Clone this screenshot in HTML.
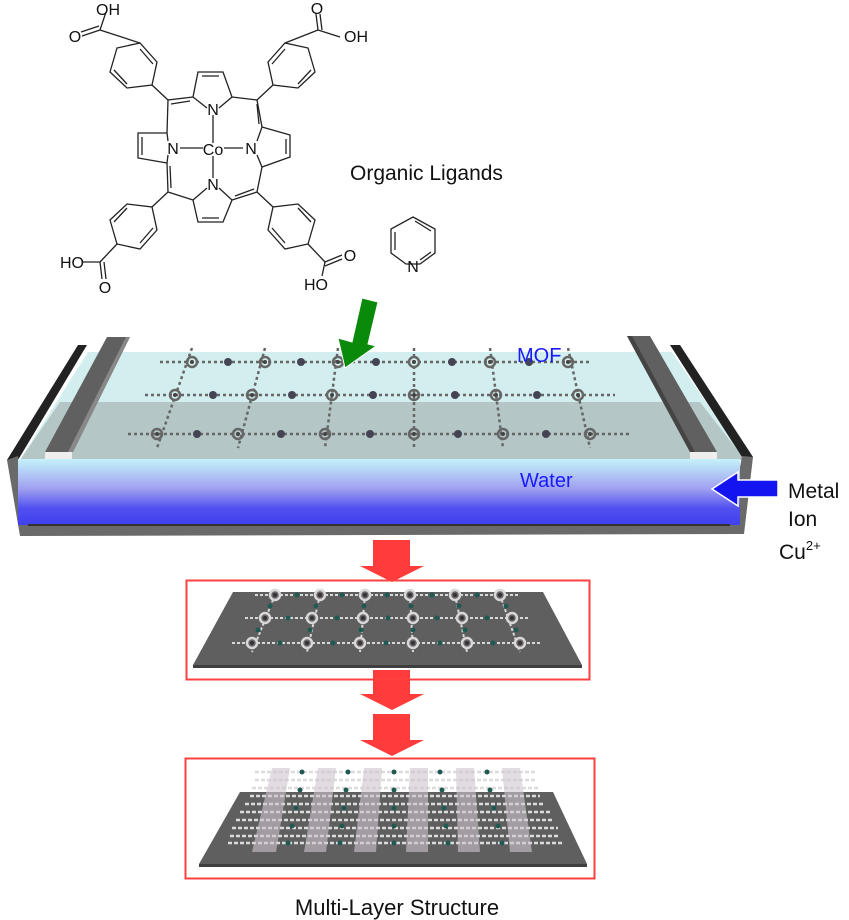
<!DOCTYPE html>
<html><head><meta charset="utf-8"><style>
html,body{margin:0;padding:0;background:#fff}
svg{display:block}
text{font-family:"Liberation Sans",sans-serif}
</style></head><body>
<svg width="849" height="920" viewBox="0 0 849 920" xmlns="http://www.w3.org/2000/svg">
<defs>
<linearGradient id="wat" x1="0" y1="0" x2="0" y2="1">
<stop offset="0" stop-color="#c4f2fa"/><stop offset="0.45" stop-color="#a0a0f0"/><stop offset="0.75" stop-color="#5050f0"/><stop offset="1" stop-color="#4040f0"/></linearGradient>
<g id="nd"><circle r="5" fill="#6a646a" stroke="#d8d8d8" stroke-width="2.5"/><circle r="2" fill="#333"/></g>
<g id="tn"><circle r="5" fill="none" stroke="#666" stroke-width="2.5"/><circle r="2" fill="#444"/></g>
</defs>

<!-- Molecule -->
<g fill="none" stroke="#222" stroke-width="1.3">
<line x1="213" y1="115" x2="213" y2="143"/><line x1="213" y1="156" x2="213" y2="178"/>
<line x1="180" y1="148" x2="203" y2="148"/><line x1="224" y1="148" x2="243" y2="148"/>
<polyline points="207,108 193,97 198,72 223,72 232,97 219,108"/><line x1="202" y1="76" x2="219" y2="76"/>
<polyline points="207,188 193,200 198,222 223,222 232,200 219,188"/><line x1="202" y1="218" x2="219" y2="218"/>
<polyline points="168,141 167,133 138,133 138,158 167,163 168,155"/><line x1="142" y1="137" x2="142" y2="155"/>
<polyline points="257,141 262,127 290,135 290,157 262,167 257,155"/><line x1="286" y1="139" x2="286" y2="154"/>
<polyline points="193,97 168,100 167,133"/><line x1="190" y1="101" x2="171" y2="104"/>
<polyline points="232,97 257,100 262,127"/><line x1="257" y1="104" x2="259" y2="124"/>
<polyline points="193,200 168,192 167,163"/><line x1="171" y1="188" x2="170" y2="166"/>
<polyline points="232,200 257,192 262,167"/><line x1="235" y1="196" x2="254" y2="189"/>
<line x1="168" y1="100" x2="152" y2="85"/>
<polygon points="152,85 157,62 140,43 117,48 110,72 127,88"/><line x1="153" y1="64" x2="140" y2="49"/><line x1="114" y1="70" x2="127" y2="84"/>
<line x1="140" y1="43" x2="100" y2="30"/><line x1="100" y1="30" x2="106" y2="12"/><line x1="100" y1="30" x2="82" y2="36"/><line x1="99" y1="26" x2="81" y2="32"/>
<line x1="257" y1="100" x2="273" y2="85"/>
<polygon points="273,85 268,62 285,43 308,48 315,72 298,88"/><line x1="272" y1="64" x2="285" y2="49"/><line x1="311" y1="70" x2="298" y2="84"/>
<line x1="285" y1="43" x2="318" y2="30"/><line x1="318" y1="30" x2="340" y2="37"/><line x1="318" y1="30" x2="316" y2="14"/><line x1="322" y1="30" x2="320" y2="14"/>
<line x1="168" y1="192" x2="152" y2="207"/>
<polygon points="152,207 157,230 140,249 117,244 110,220 127,204"/><line x1="153" y1="228" x2="140" y2="243"/><line x1="114" y1="222" x2="127" y2="208"/>
<line x1="117" y1="244" x2="100" y2="262"/><line x1="100" y1="262" x2="83" y2="262"/><line x1="100" y1="262" x2="102" y2="279"/><line x1="104" y1="262" x2="106" y2="279"/>
<line x1="257" y1="192" x2="273" y2="207"/>
<polygon points="273,207 268,230 285,249 308,244 315,220 298,204"/><line x1="272" y1="228" x2="285" y2="243"/><line x1="311" y1="222" x2="298" y2="208"/>
<line x1="308" y1="244" x2="325" y2="262"/><line x1="325" y1="262" x2="342" y2="255"/><line x1="325" y1="266" x2="342" y2="259"/><line x1="325" y1="262" x2="322" y2="276"/>
<polygon points="413,217 435,229 435,253 420,264 406,264 391,253 391,229"/><line x1="395" y1="232" x2="395" y2="250"/><line x1="415" y1="221" x2="431" y2="231"/><line x1="431" y1="252" x2="420" y2="260"/>
</g>
<g font-size="16" fill="#111" text-anchor="middle">
<text x="213" y="115">N</text><text x="213" y="190">N</text><text x="173" y="154">N</text><text x="251" y="154">N</text>
<text x="213" y="155">Co</text>
<text x="108" y="15">OH</text><text x="75" y="42">O</text>
<text x="317" y="14">O</text><text x="356" y="42">OH</text>
<text x="72" y="268">HO</text><text x="105" y="293">O</text>
<text x="350" y="261">O</text><text x="316" y="290">HO</text>
<text x="413" y="272">N</text>
</g>
<text x="350" y="180" font-size="21" fill="#111">Organic Ligands</text>

<!-- Trough -->
<polygon points="88,352 672,352 745,460 20,460" fill="#d3eeee"/>
<polygon points="60,402 700,402 745,460 20,460" fill="#b4c6c6"/>
<polygon points="78,345 87,345 18,460 7,460" fill="#222"/>
<polygon points="670,345 680,345 753,457 742,457" fill="#222"/>
<polygon points="7,460 18,456 28,524 730,524 742,456 753,457 744,534 20,536" fill="#6a6a6a"/>
<rect x="18" y="459" width="722" height="66" fill="url(#wat)"/>
<line x1="28" y1="525" x2="730" y2="525" fill="none" stroke="#333" stroke-width="2"/>
<polygon points="107,337 130,337 73,452 45,452" fill="#606060"/>
<polygon points="126,337 130,337 73,452 68,452" fill="#888"/>
<rect x="45" y="452" width="27" height="7" fill="#eee"/>
<polygon points="627,336 650,336 717,452 690,452" fill="#606060"/>
<polygon points="627,336 632,336 695,452 690,452" fill="#444"/>
<rect x="690" y="452" width="27" height="7" fill="#eee"/>
<g stroke="#666" stroke-width="2.5" stroke-dasharray="3 3" fill="none">
<line x1="160" y1="362" x2="590" y2="362"/><line x1="145" y1="395" x2="615" y2="395"/><line x1="128" y1="434" x2="630" y2="434"/>
<line x1="192" y1="348" x2="157" y2="448"/><line x1="265" y1="348" x2="238" y2="448"/><line x1="338" y1="348" x2="325" y2="448"/>
<line x1="414" y1="348" x2="414" y2="448"/><line x1="490" y1="348" x2="503" y2="448"/><line x1="568" y1="348" x2="590" y2="448"/>
</g>
<g fill="#445">
<use href="#tn" x="192" y="362"/><use href="#tn" x="265" y="362"/><use href="#tn" x="338" y="362"/><use href="#tn" x="414" y="362"/><use href="#tn" x="490" y="362"/><use href="#tn" x="568" y="362"/>
<use href="#tn" x="175" y="395"/><use href="#tn" x="252" y="395"/><use href="#tn" x="332" y="395"/><use href="#tn" x="414" y="395"/><use href="#tn" x="496" y="395"/><use href="#tn" x="578" y="395"/>
<use href="#tn" x="157" y="434"/><use href="#tn" x="238" y="434"/><use href="#tn" x="325" y="434"/><use href="#tn" x="414" y="434"/><use href="#tn" x="503" y="434"/><use href="#tn" x="590" y="434"/>
<circle cx="228" cy="362" r="4"/><circle cx="301" cy="362" r="4"/><circle cx="376" cy="362" r="4"/><circle cx="452" cy="362" r="4"/><circle cx="529" cy="362" r="4"/>
<circle cx="213" cy="395" r="4"/><circle cx="292" cy="395" r="4"/><circle cx="373" cy="395" r="4"/><circle cx="455" cy="395" r="4"/><circle cx="537" cy="395" r="4"/>
<circle cx="197" cy="434" r="4"/><circle cx="281" cy="434" r="4"/><circle cx="370" cy="434" r="4"/><circle cx="458" cy="434" r="4"/><circle cx="546" cy="434" r="4"/>
</g>
<text x="517" y="362" font-size="20" fill="#1a1aff">MOF</text>
<text x="520" y="487" font-size="20" fill="#1a1aff">Water</text>
<polygon points="362,298 378,302 368,344 376,346 345,368 338,338 352,342" fill="#0a8a0a" stroke="#fff" stroke-width="1"/>
<polygon points="778,480 778,497 738,497 738,506 712,489 738,472 738,480" fill="#1414f0" stroke="#fff" stroke-width="1.5"/>
<g font-size="21" fill="#111">
<text x="788" y="498">Metal</text><text x="788" y="526">Ion</text>
<text x="779" y="559">Cu<tspan font-size="13" dy="-9">2+</tspan></text>
</g>

<g fill="#ff3b3b">
<polygon points="373,540 410,540 410,566 424,566 392,582 360,566 373,566"/>
<polygon points="373,670 410,670 410,694 424,694 392,710 360,694 373,694"/>
<polygon points="373,714 410,714 410,740 424,740 392,756 360,740 373,740"/>
</g>
<rect x="186.5" y="580.5" width="403" height="99" fill="none" stroke="#ff4040" stroke-width="2"/>
<rect x="185.5" y="758.5" width="409" height="120" fill="none" stroke="#ff4040" stroke-width="2"/>

<!-- plate 1 -->
<polygon points="233,592 543,592 582,665 193,665" fill="#5f5f5f"/>
<rect x="193" y="665" width="389" height="3" fill="#3f3f3f"/>
<g stroke="#d8d8d8" stroke-width="2" stroke-dasharray="3 2" fill="none">
<line x1="255" y1="595" x2="520" y2="595"/><line x1="245" y1="618" x2="530" y2="618"/><line x1="232" y1="643" x2="540" y2="643"/>
<line x1="275" y1="595" x2="252" y2="652"/><line x1="320" y1="595" x2="307" y2="652"/><line x1="365" y1="595" x2="360" y2="652"/>
<line x1="410" y1="595" x2="413" y2="652"/><line x1="455" y1="595" x2="467" y2="652"/><line x1="500" y1="595" x2="520" y2="652"/>
</g>
<g>
<use href="#nd" x="275" y="595"/><use href="#nd" x="320" y="595"/><use href="#nd" x="365" y="595"/><use href="#nd" x="410" y="595"/><use href="#nd" x="455" y="595"/><use href="#nd" x="500" y="595"/>
<use href="#nd" x="265" y="618"/><use href="#nd" x="312" y="618"/><use href="#nd" x="363" y="618"/><use href="#nd" x="413" y="618"/><use href="#nd" x="462" y="618"/><use href="#nd" x="512" y="618"/>
<use href="#nd" x="252" y="643"/><use href="#nd" x="307" y="643"/><use href="#nd" x="360" y="643"/><use href="#nd" x="413" y="643"/><use href="#nd" x="467" y="643"/><use href="#nd" x="520" y="643"/>
</g>
<g fill="#1e5a52">
<circle cx="297" cy="595" r="2.5"/><circle cx="342" cy="595" r="2.5"/><circle cx="387" cy="595" r="2.5"/><circle cx="432" cy="595" r="2.5"/><circle cx="477" cy="595" r="2.5"/>
<circle cx="288" cy="618" r="2.5"/><circle cx="337" cy="618" r="2.5"/><circle cx="388" cy="618" r="2.5"/><circle cx="437" cy="618" r="2.5"/><circle cx="487" cy="618" r="2.5"/>
<circle cx="280" cy="643" r="2.5"/><circle cx="333" cy="643" r="2.5"/><circle cx="386" cy="643" r="2.5"/><circle cx="440" cy="643" r="2.5"/><circle cx="493" cy="643" r="2.5"/>
<circle cx="270" cy="606" r="2.5"/><circle cx="316" cy="606" r="2.5"/><circle cx="364" cy="606" r="2.5"/><circle cx="411" cy="606" r="2.5"/><circle cx="459" cy="606" r="2.5"/><circle cx="506" cy="606" r="2.5"/>
<circle cx="258" cy="630" r="2.5"/><circle cx="310" cy="630" r="2.5"/><circle cx="361" cy="630" r="2.5"/><circle cx="413" cy="630" r="2.5"/><circle cx="465" cy="630" r="2.5"/><circle cx="516" cy="630" r="2.5"/>
</g>

<!-- plate 2 -->
<polygon points="240,792 553,792 587,864 199,864" fill="#5f5f5f"/>
<rect x="199" y="864" width="388" height="3" fill="#3f3f3f"/>
<g stroke="#dcdcdc" stroke-width="2.5" stroke-dasharray="4 2" fill="none">
<line x1="255" y1="772" x2="535" y2="772"/><line x1="255" y1="780" x2="535" y2="780"/><line x1="252" y1="788" x2="538" y2="788"/>
<line x1="250" y1="796" x2="540" y2="796"/><line x1="245" y1="804" x2="545" y2="804"/><line x1="240" y1="812" x2="550" y2="812"/>
<line x1="236" y1="820" x2="554" y2="820"/><line x1="232" y1="828" x2="558" y2="828"/><line x1="230" y1="836" x2="560" y2="836"/><line x1="228" y1="843" x2="562" y2="843"/>
</g>
<g fill="#cfc6cf" opacity="0.6">
<polygon points="272,768 290,768 276,852 252,852"/>
<polygon points="318,768 336,768 326,852 304,852"/>
<polygon points="364,768 382,768 376,852 354,852"/>
<polygon points="410,768 428,768 428,852 406,852"/>
<polygon points="456,768 474,768 480,852 458,852"/>
<polygon points="502,768 520,768 532,852 510,852"/>
</g>
<g fill="#1e5a52">
<circle cx="302" cy="772" r="2.5"/><circle cx="348" cy="772" r="2.5"/><circle cx="394" cy="772" r="2.5"/><circle cx="440" cy="772" r="2.5"/><circle cx="487" cy="772" r="2.5"/>
<circle cx="300" cy="790" r="2.5"/><circle cx="346" cy="790" r="2.5"/><circle cx="394" cy="790" r="2.5"/><circle cx="442" cy="790" r="2.5"/><circle cx="490" cy="790" r="2.5"/>
<circle cx="296" cy="808" r="2.5"/><circle cx="344" cy="808" r="2.5"/><circle cx="394" cy="808" r="2.5"/><circle cx="444" cy="808" r="2.5"/><circle cx="494" cy="808" r="2.5"/>
<circle cx="292" cy="826" r="2.5"/><circle cx="342" cy="826" r="2.5"/><circle cx="394" cy="826" r="2.5"/><circle cx="446" cy="826" r="2.5"/><circle cx="498" cy="826" r="2.5"/>
<circle cx="288" cy="843" r="2.5"/><circle cx="340" cy="843" r="2.5"/><circle cx="394" cy="843" r="2.5"/><circle cx="448" cy="843" r="2.5"/><circle cx="502" cy="843" r="2.5"/>
</g>
<text x="397" y="915" font-size="22" fill="#111" text-anchor="middle">Multi-Layer Structure</text>
</svg>
</body></html>
